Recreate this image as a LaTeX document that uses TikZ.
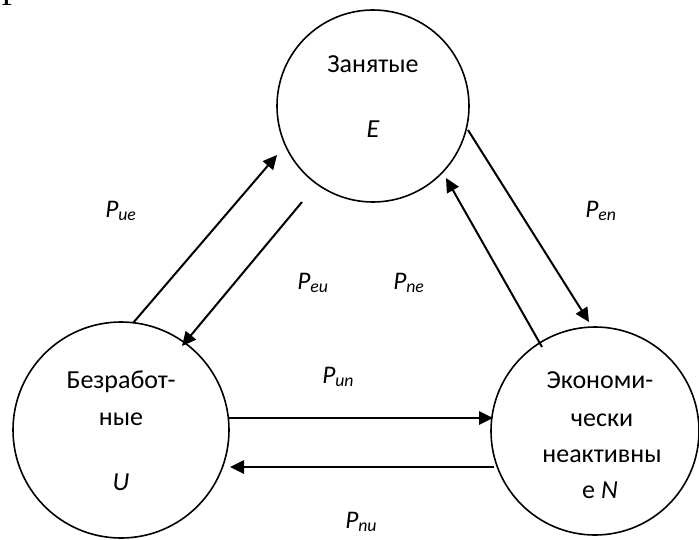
\documentclass[tikz,border=0pt]{standalone}
\usepackage{fontspec}
\setmainfont{Carlito}
\newfontfamily\serifcut{Liberation Serif}
\usetikzlibrary{arrows.meta}
\newcommand\plab[2]{\textit{#1}\textsubscript{\textit{#2}}}
\begin{document}
\begin{tikzpicture}[x=0.75pt,y=-0.75pt,
  state/.style={draw, circle, line width=1.2pt, inner sep=0pt},
  arr/.style={line width=1.5pt, -{Triangle[length=10.5pt,width=10pt]}},
  txt/.style={font=\fontsize{19.5}{23}\selectfont, anchor=base, inner sep=0pt},
  lab/.style={font=\fontsize{19}{23}\selectfont, anchor=base west, inner sep=0pt}]
\useasboundingbox (0,0) rectangle (699,539);
\begin{scope}
  \clip (0,0) rectangle (699,539);
  \node[anchor=base west, inner sep=0pt, font=\serifcut\fontsize{24}{28}\selectfont] (cut) at (1,6) {Р};
\end{scope}
% states
\node[state, minimum size=144pt] (E) at (373,106) {};
\node[state, minimum size=162pt] (U) at (121,430) {};
\node[state, minimum size=156pt] (N) at (595,431) {};
% texts in states
\node[txt] (Et1) at (373,72) {Занятые};
\node[txt] (Et2) at (373,137) {\textit{E}};
\node[txt] (Ut1) at (121,388) {Безработ-};
\node[txt] (Ut2) at (121,425) {ные};
\node[txt] (Ut3) at (121,490) {\textit{U}};
\node[txt] (Nt1) at (600,388) {Экономи-};
\node[txt] (Nt2) at (602,426) {чески};
\node[txt] (Nt3) at (602,462) {неактивны};
\node[txt] (Nt4) at (600,498) {е \textit{N}};
% connector ends
\coordinate (ue1) at (133,323); \coordinate (ue2) at (277,155);
\coordinate (eu1) at (302,202); \coordinate (eu2) at (182,346);
\coordinate (en1) at (468,130); \coordinate (en2) at (589,322);
\coordinate (ne1) at (542,347); \coordinate (ne2) at (446,178);
\coordinate (un1) at (229,418); \coordinate (un2) at (493,418);
\coordinate (nu1) at (494,467); \coordinate (nu2) at (230,467);
\draw[arr] (ue1) -- (ue2);
\draw[arr] (eu1) -- (eu2);
\draw[arr] (en1) -- (en2);
\draw[arr] (ne1) -- (ne2);
\draw[arr] (un1) -- (un2);
\draw[arr] (nu1) -- (nu2);
% labels
\node[lab] (Lue) at (105,217) {\plab{P}{ue}};
\node[lab] (Len) at (585,217) {\plab{P}{en}};
\node[lab] (Leu) at (297,289) {\plab{P}{eu}};
\node[lab] (Lne) at (393,289) {\plab{P}{ne}};
\node[lab] (Lun) at (322,383) {\plab{P}{un}};
\node[lab] (Lnu) at (345,528) {\plab{P}{nu}};
\end{tikzpicture}
\end{document}
